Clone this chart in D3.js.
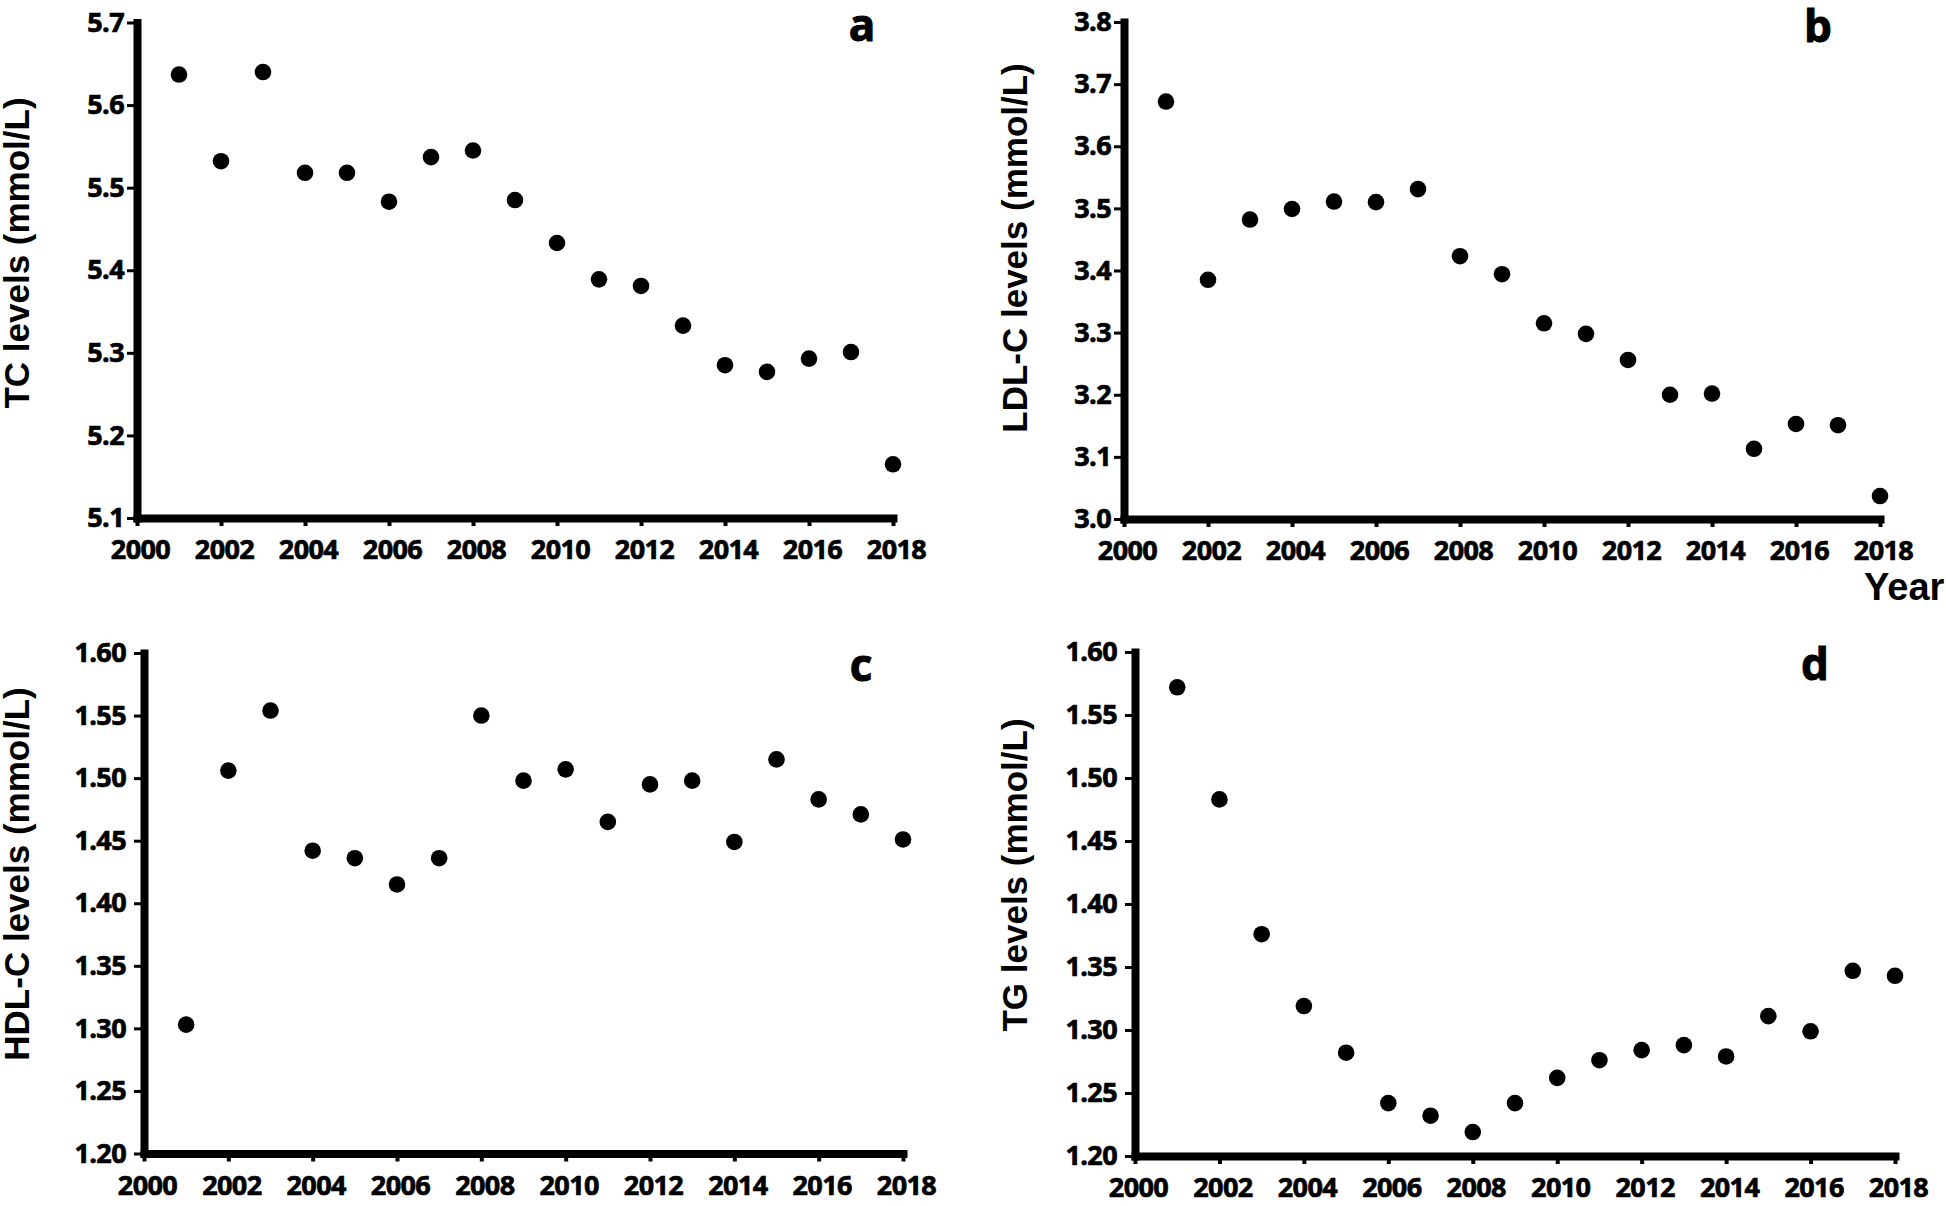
<!DOCTYPE html>
<html>
<head>
<meta charset="utf-8">
<script src="https://cdn.jsdelivr.net/npm/d3@7"></script>
<style>
  body { margin: 0; background: #fff; }
  svg { display: block; }
</style>
</head>
<body>
<svg id="chart" width="1946" height="1206"></svg>
<script>
// ---------- data ----------
const years = [2001, 2002, 2003, 2004, 2005, 2006, 2007, 2008, 2009, 2010, 2011, 2012, 2013, 2014, 2015, 2016, 2017, 2018];
const xTicks = [2000, 2002, 2004, 2006, 2008, 2010, 2012, 2014, 2016, 2018];

const tcLevels  = [5.637, 5.532, 5.640, 5.518, 5.518, 5.483, 5.537, 5.545, 5.485, 5.433, 5.389, 5.381, 5.333, 5.285, 5.277, 5.293, 5.301, 5.165];
const ldlLevels = [3.672, 3.385, 3.482, 3.499, 3.511, 3.510, 3.531, 3.423, 3.394, 3.315, 3.298, 3.256, 3.200, 3.202, 3.113, 3.153, 3.151, 3.037];
const hdlLevels = [1.303, 1.506, 1.554, 1.442, 1.436, 1.415, 1.436, 1.550, 1.498, 1.507, 1.465, 1.495, 1.498, 1.449, 1.515, 1.483, 1.471, 1.451];
const tgLevels  = [1.572, 1.483, 1.376, 1.319, 1.282, 1.242, 1.232, 1.219, 1.242, 1.262, 1.276, 1.284, 1.288, 1.279, 1.311, 1.299, 1.347, 1.343];

const tcTicks  = [5.1, 5.2, 5.3, 5.4, 5.5, 5.6, 5.7];
const ldlTicks = [3.0, 3.1, 3.2, 3.3, 3.4, 3.5, 3.6, 3.7, 3.8];
const hdlTicks = [1.20, 1.25, 1.30, 1.35, 1.40, 1.45, 1.50, 1.55, 1.60];
const tgTicks  = [1.20, 1.25, 1.30, 1.35, 1.40, 1.45, 1.50, 1.55, 1.60];

const yTitles = ["TC levels (mmol/L)", "LDL-C levels (mmol/L)", "HDL-C levels (mmol/L)", "TG levels (mmol/L)"];
const panelLetters = ["a", "b", "c", "d"];
const xTitle = "Year";

// ---------- layout ----------
const layout = [
  { x0: 137,  x1: 893,  yTop: 22.5, yBot: 518,    fmt: ".1f", pad: 3, titleX: 29,   titleY: 253, lx: 862,  ly: 41 },
  { x0: 1124, x1: 1880, yTop: 22,   yBot: 519,    fmt: ".1f", pad: 3, titleX: 1027, titleY: 248, lx: 1818, ly: 42 },
  { x0: 144,  x1: 903,  yTop: 653,  yBot: 1153.5, fmt: ".2f", pad: 8, titleX: 29,   titleY: 874, lx: 861,  ly: 681 },
  { x0: 1135, x1: 1895, yTop: 652,  yBot: 1156,   fmt: ".2f", pad: 8, titleX: 1027, titleY: 875, lx: 1815, ly: 680 }
];
const seriesList = [tcLevels, ldlLevels, hdlLevels, tgLevels];
const tickList = [tcTicks, ldlTicks, hdlTicks, tgTicks];

const tickFont = "'Open Sans', 'DejaVu Sans Condensed', sans-serif";
const titleFont = "'Liberation Sans', Arial, sans-serif";

const svg = d3.select("#chart");
svg.append("rect").attr("width", 1946).attr("height", 1206).attr("fill", "#fff");

function styleTickText(sel) {
  sel.attr("fill", "#000")
    .attr("stroke", "#000").attr("stroke-width", 0.7)
    .style("font-family", tickFont).style("font-weight", 700).style("font-size", "27px")
    .style("letter-spacing", "-0.6px");
}

seriesList.forEach((values, i) => {
  const L = layout[i];
  const ticks = tickList[i];
  const x = d3.scaleLinear().domain([xTicks[0], xTicks[xTicks.length - 1]]).range([L.x0, L.x1]);
  const y = d3.scaleLinear().domain([ticks[0], ticks[ticks.length - 1]]).range([L.yBot, L.yTop]);
  const g = svg.append("g");

  // y axis
  const ya = g.append("g")
    .attr("transform", `translate(${L.x0},0)`)
    .call(d3.axisLeft(y).tickValues(ticks).tickFormat(d3.format(L.fmt)).tickSize(10).tickSizeOuter(0).tickPadding(L.pad));
  ya.select(".domain").attr("stroke", "#000").attr("stroke-width", 8).attr("stroke-linecap", "square");
  ya.selectAll(".tick line").attr("stroke", "#000").attr("stroke-width", 3);
  styleTickText(ya.selectAll(".tick text"));

  // x axis
  const xa = g.append("g")
    .attr("transform", `translate(0,${L.yBot})`)
    .call(d3.axisBottom(x).tickValues(xTicks).tickFormat(d3.format("d")).tickSize(8).tickSizeOuter(0).tickPadding(14));
  xa.select(".domain").attr("stroke", "#000").attr("stroke-width", 8).attr("stroke-linecap", "square");
  xa.selectAll(".tick line").attr("stroke", "#000").attr("stroke-width", 4);
  styleTickText(xa.selectAll(".tick text").attr("dx", 3));

  // points
  g.append("g").selectAll("circle")
    .data(values)
    .join("circle")
    .attr("cx", (d, k) => x(years[k]))
    .attr("cy", d => y(d))
    .attr("r", 8.3)
    .attr("fill", "#000");

  // y title
  g.append("text")
    .attr("transform", `translate(${L.titleX},${L.titleY}) rotate(-90)`)
    .attr("text-anchor", "middle")
    .style("font-family", titleFont).style("font-weight", 700).style("font-size", "35px")
    .attr("fill", "#000")
    .text(yTitles[i]);

  // panel letter
  g.append("text")
    .attr("x", L.lx).attr("y", L.ly)
    .attr("text-anchor", "middle")
    .attr("stroke", "#000").attr("stroke-width", 1)
    .style("font-family", tickFont).style("font-weight", 700).style("font-size", "44px")
    .attr("fill", "#000")
    .text(panelLetters[i]);
});

// "Year" label under panel b
svg.append("text")
  .attr("x", 1864).attr("y", 600)
  .style("font-family", titleFont).style("font-weight", 700).style("font-size", "38px")
  .attr("fill", "#000")
  .text(xTitle);
</script>
</body>
</html>
